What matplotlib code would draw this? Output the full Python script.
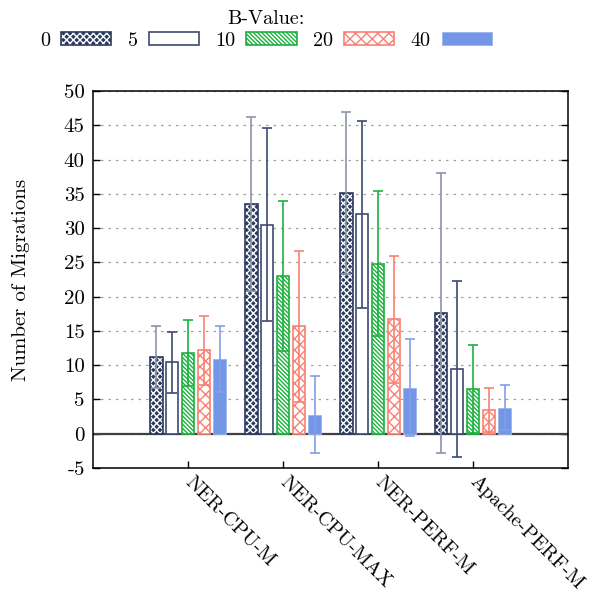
import matplotlib
matplotlib.use('Agg')
import matplotlib.pyplot as plt
import numpy as np

plt.rcParams['font.family'] = ['cmr10', 'DejaVu Serif']
plt.rcParams['axes.unicode_minus'] = False
plt.rcParams['hatch.linewidth'] = 1.0

# data
workloads = ['NER-CPU-M', 'NER-CPU-MAX', 'NER-PERF-M', 'Apache-PERF-M']
b_values = ['0', '5', '10', '20', '40']

mean_b0 = [11.2, 33.5, 35.1, 17.6]
mean_b5 = [10.4, 30.5, 32.0, 9.5]
mean_b10 = [11.75, 23.0, 24.8, 6.5]
mean_b20 = [12.15, 15.7, 16.7, 3.45]
mean_b40 = [10.9, 2.75, 6.7, 3.8]

std_b0 = [4.5, 12.7, 11.8, 20.4]
std_b5 = [4.4, 14.1, 13.6, 12.85]
std_b10 = [4.85, 10.9, 10.6, 6.4]
std_b20 = [5.05, 11.0, 9.3, 3.25]
std_b40 = [4.8, 5.6, 7.1, 3.3]

means = [mean_b0, mean_b5, mean_b10, mean_b20, mean_b40]
stds = [std_b0, std_b5, std_b10, std_b20, std_b40]

navy = '#2b3a5e'
edge_cols = [navy, '#3c4b6e', '#1db03f', '#fa8072', '#7396e6']
err_cols = ['#8a93a8', '#3c4b6e', '#1db03f', '#fa8072', '#7f9fe8']

fs = 15

fig = plt.figure(figsize=(5.95, 6.0), dpi=100)
ax = fig.add_axes([0.1563, 0.22, 0.7983, 0.6283])

x = np.arange(len(workloads))
pitch = 1 / 6
width = 0.13
handles = []
for i in range(5):
    pos = x + (i - 2) * pitch
    if i == 0:
        plt.rcParams['hatch.color'] = 'white'
        b1 = ax.bar(pos, means[i], width, color=navy, hatch='xxxxx', zorder=3)
        b2 = ax.bar(pos, means[i], width, fill=False, edgecolor=navy, linewidth=1.2, zorder=3)
        handles.append((b1[0], b2[0]))
    elif i == 1:
        b = ax.bar(pos, means[i], width, facecolor='white', edgecolor=edge_cols[i], linewidth=1.2, zorder=3)
        handles.append(b[0])
    elif i == 2:
        b = ax.bar(pos, means[i], width, facecolor='white', edgecolor=edge_cols[i], hatch='\\' * 8, linewidth=1.2, zorder=3)
        handles.append(b[0])
    elif i == 3:
        b = ax.bar(pos, means[i], width, facecolor='white', edgecolor=edge_cols[i], hatch='xxx', linewidth=1.2, zorder=3)
        handles.append(b[0])
    else:
        b = ax.bar(pos, means[i], width, color=edge_cols[i], edgecolor='#9bb5ee', linewidth=0.6, zorder=3)
        handles.append(b[0])
    ax.errorbar(pos, means[i], yerr=stds[i], fmt='none', ecolor=err_cols[i],
                elinewidth=1.2, capsize=3.5, capthick=1.2, zorder=4)

ax.axhline(0, color='#404040', linewidth=1.6, zorder=2)

ax.set_xlim(-1, 4)
ax.set_ylim(-5, 50)
ax.set_yticks(np.arange(-5, 51, 5))
ax.set_xticks(x)
ax.set_xticklabels(workloads, rotation=-45, ha='left', va='center', rotation_mode='anchor', fontsize=14.5)
ax.tick_params(axis='y', labelsize=fs, direction='in', length=5, right=True, width=1, pad=6)
ax.tick_params(axis='x', direction='in', length=5, width=1, pad=8)
ax.yaxis.grid(True, linestyle=(0, (2, 4)), color='#a0a0a0', linewidth=0.9, zorder=0)
ax.set_axisbelow(True)
for s in ax.spines.values():
    s.set_linewidth(1.1)
ax.set_ylabel('Number of Migrations', fontsize=fs, labelpad=24)

fig.legend(handles, b_values, loc='upper center', bbox_to_anchor=(0.447, 0.987), ncol=5,
           frameon=False, markerfirst=False, fontsize=14.5, title='B-Value:', title_fontsize=14.5,
           handlelength=2.49, handleheight=0.6, handletextpad=0.55, columnspacing=0.82,
           borderaxespad=0.0, borderpad=0.1, labelspacing=0.2)

fig.savefig('out.png', dpi=100)
